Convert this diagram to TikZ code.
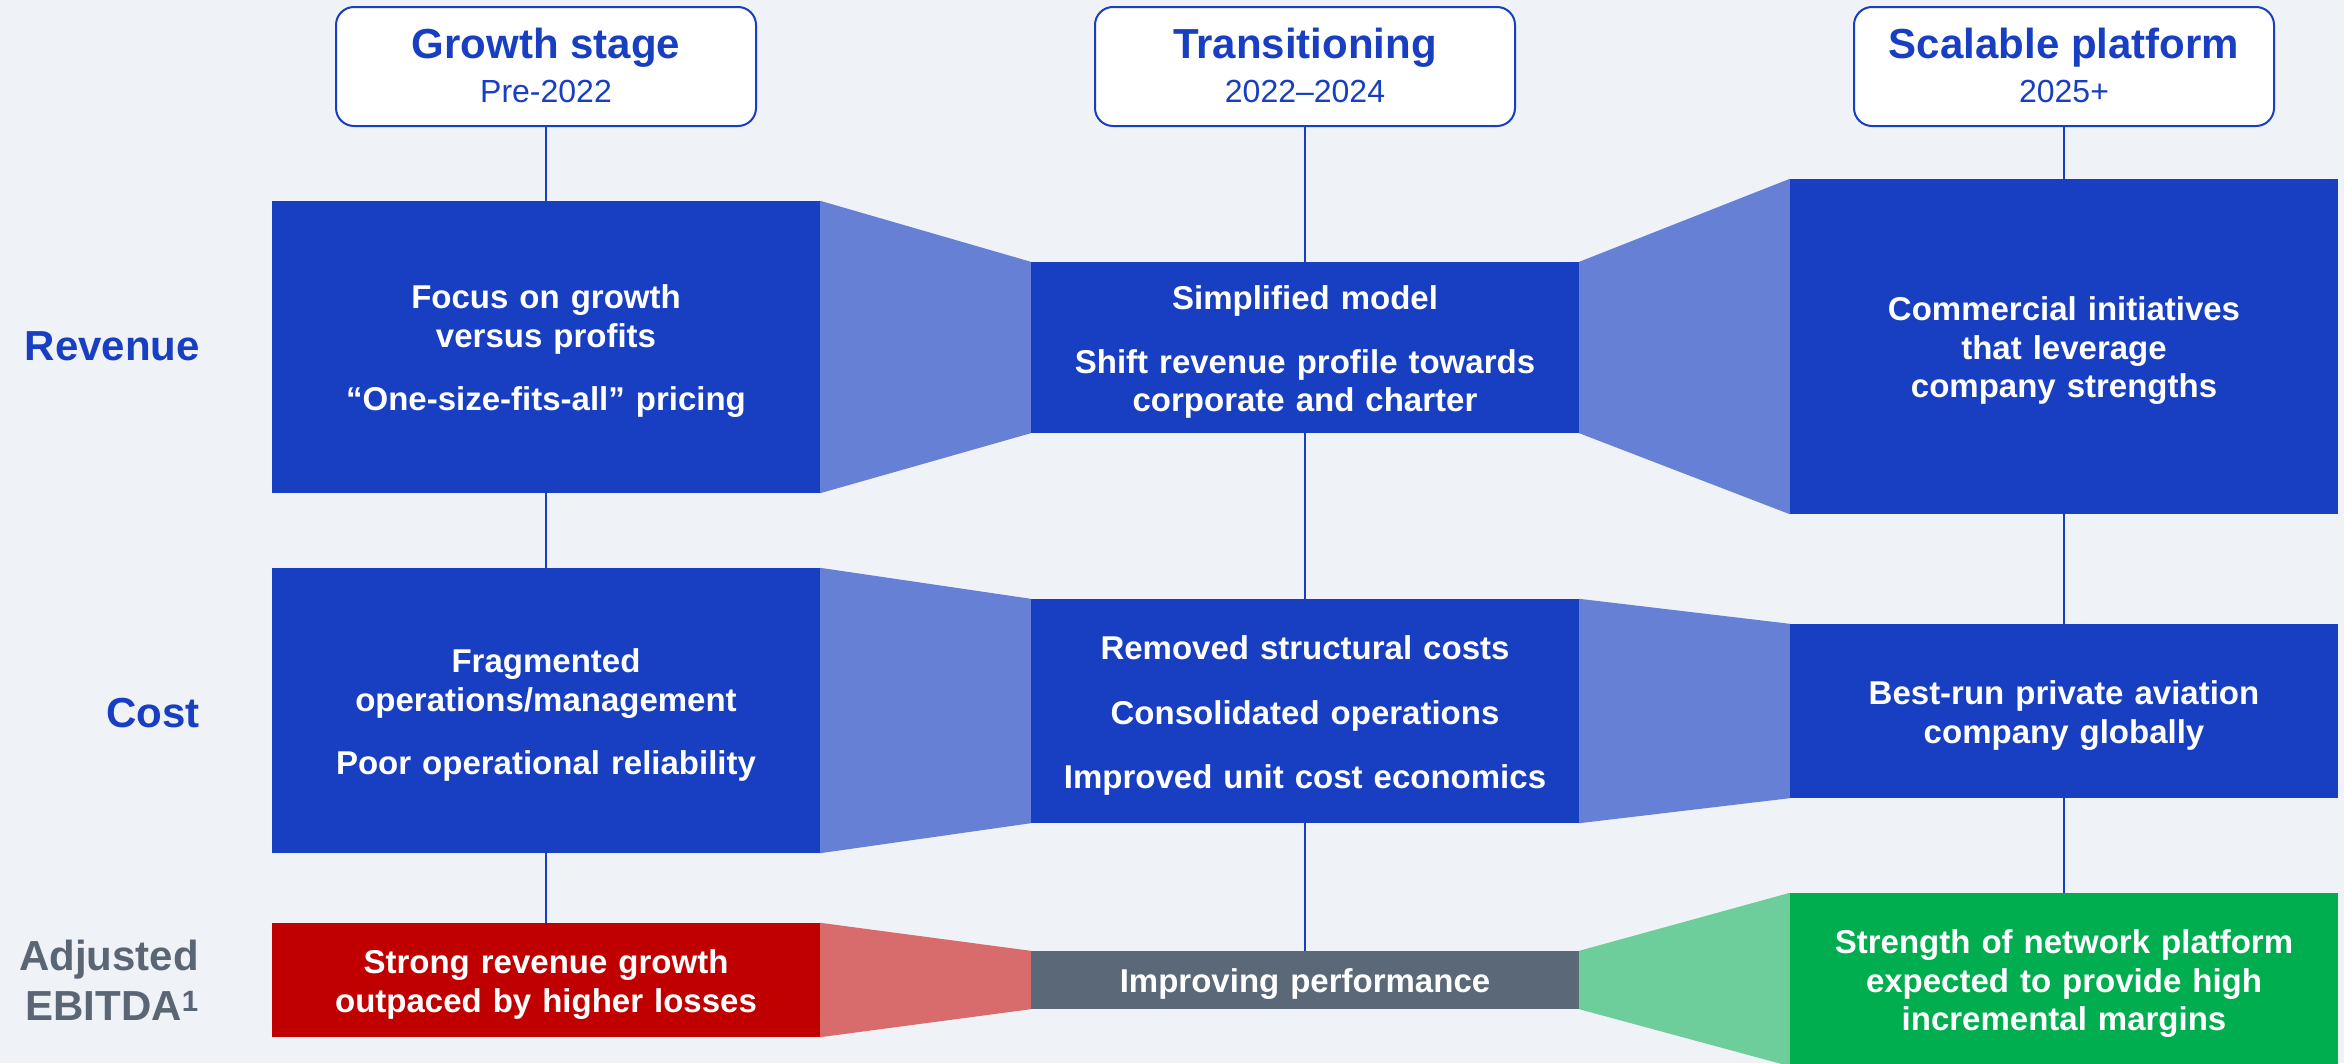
\documentclass[tikz,border=0pt]{standalone}
\usepackage{fontspec}
\setmainfont{Liberation Sans}

\definecolor{canvasbg}{RGB}{239,242,247}
\definecolor{coreblue}{RGB}{24,62,193}
\definecolor{funnelblue}{RGB}{102,128,214}
\definecolor{lossred}{RGB}{192,0,0}
\definecolor{funnelred}{RGB}{216,108,108}
\definecolor{midgray}{RGB}{90,104,120}
\definecolor{gaingreen}{RGB}{0,173,79}
\definecolor{funnelgreen}{RGB}{109,206,156}
\definecolor{labelgray}{RGB}{91,102,117}

\newcommand\cellfont{\fontsize{33}{38.5}\selectfont\bfseries}
\newcommand\stagefont{\fontsize{42}{50}\selectfont\bfseries}
\newcommand\periodfont{\fontsize{32}{38}\selectfont}
\newcommand\rowfont{\fontsize{42}{50}\selectfont\bfseries}

\pgfdeclarelayer{canvas}
\pgfdeclarelayer{links}
\pgfsetlayers{canvas,links,main}

\begin{document}
\begin{tikzpicture}[x=1pt,y=-1pt,
  panel/.style={rectangle, inner sep=0pt, minimum width=548pt},
  bluepanel/.style={panel, fill=coreblue},
  paneltext/.style={inner sep=0pt, text width=530pt, align=center, text=white,
    font=\cellfont, yshift=-4.5pt},
  stagebox/.style={rectangle, rounded corners=18pt, draw=coreblue, line width=2pt,
    fill=white, minimum width=420pt, minimum height=119pt},
  stagetitle/.style={text=coreblue, font=\stagefont, inner sep=0pt, anchor=base},
  stagesub/.style={text=coreblue, font=\periodfont, inner sep=0pt, anchor=base},
  rowlabel/.style={font=\rowfont, inner sep=0pt, align=right, text=coreblue},
  spine/.style={draw=coreblue, line width=1.5pt},
]

% page area and background
\begin{pgfonlayer}{canvas}
  \fill[canvasbg] (0,0) rectangle (2344,1063);
\end{pgfonlayer}
\useasboundingbox (0,0) rectangle (2344,1063);

% stage headers
\node[stagebox] (h1) at (546,66.5) {};
\node[stagebox] (h2) at (1305,66.5) {};
\node[stagebox] (h3) at (2064,66.5) {};
\node[stagetitle] (h1t) at (546,58) {Growth stage};
\node[stagesub]   (h1s) at (546,102) {Pre-2022};
\node[stagetitle] (h2t) at (1305,58) {Transitioning};
\node[stagesub]   (h2s) at (1305,102) {2022–2024};
\node[stagetitle] (h3t) at (2064,58) {Scalable platform};
\node[stagesub]   (h3s) at (2064,102) {2025+};

% row labels
\node[rowlabel, anchor=base east] (lrev) at (200,360) {Revenue};
\node[rowlabel, anchor=base east] (lcost) at (200,727) {Cost};
\node[rowlabel, anchor=east, text=labelgray]
  (lebit) at (199,980) {Adjusted\\EBITDA\textsuperscript{1}};

% revenue row
\node[bluepanel, minimum height=292pt] (r1) at (546,347) {};
\node[bluepanel, minimum height=171pt] (r2) at (1305,347.5) {};
\node[bluepanel, minimum height=335pt] (r3) at (2064,346.5) {};

% cost row
\node[bluepanel, minimum height=285pt] (c1) at (546,710.5) {};
\node[bluepanel, minimum height=224pt] (c2) at (1305,711) {};
\node[bluepanel, minimum height=174pt] (c3) at (2064,711) {};

% adjusted EBITDA row
\node[panel, fill=lossred, minimum height=114pt] (e1) at (546,980) {};
\node[panel, fill=midgray, minimum height=58pt] (e2) at (1305,980) {};
\node[panel, fill=gaingreen, minimum height=173pt] (e3) at (2064,979.5) {};

% panel texts
\node[paneltext] (r1t) at (r1.center)
  {Focus on growth\\versus profits\\[25pt]“One-size-fits-all” pricing};
\node[paneltext] (r2t) at (r2.center)
  {Simplified model\\[25pt]Shift revenue profile towards\\corporate and charter};
\node[paneltext] (r3t) at (r3.center)
  {Commercial initiatives\\that leverage\\company strengths};
\node[paneltext] (c1t) at (c1.center)
  {Fragmented\\operations/management\\[25pt]Poor operational reliability};
\node[paneltext] (c2t) at (c2.center)
  {Removed structural costs\\[26pt]Consolidated operations\\[26pt]Improved unit cost economics};
\node[paneltext] (c3t) at (c3.center)
  {Best-run private aviation\\company globally};
\node[paneltext] (e1t) at (e1.center)
  {Strong revenue growth\\outpaced by higher losses};
\node[paneltext] (e2t) at (e2.center)
  {Improving performance};
\node[paneltext] (e3t) at (e3.center)
  {Strength of network platform\\expected to provide high\\incremental margins};

% column spines and funnels behind the panels
\begin{pgfonlayer}{links}
  \draw[spine] (h1.south) -- (e1.north);
  \draw[spine] (h2.south) -- (e2.north);
  \draw[spine] (h3.south) -- (e3.north);

  \fill[funnelblue] (r1.north east) -- (r2.north west) -- (r2.south west) -- (r1.south east) -- cycle;
  \fill[funnelblue] (r2.north east) -- (r3.north west) -- (r3.south west) -- (r2.south east) -- cycle;
  \fill[funnelblue] (c1.north east) -- (c2.north west) -- (c2.south west) -- (c1.south east) -- cycle;
  \fill[funnelblue] (c2.north east) -- (c3.north west) -- (c3.south west) -- (c2.south east) -- cycle;
  \fill[funnelred] (e1.north east) -- (e2.north west) -- (e2.south west) -- (e1.south east) -- cycle;
  \fill[funnelgreen] (e2.north east) -- (e3.north west) -- (e3.south west) -- (e2.south east) -- cycle;
\end{pgfonlayer}

\end{tikzpicture}
\end{document}
